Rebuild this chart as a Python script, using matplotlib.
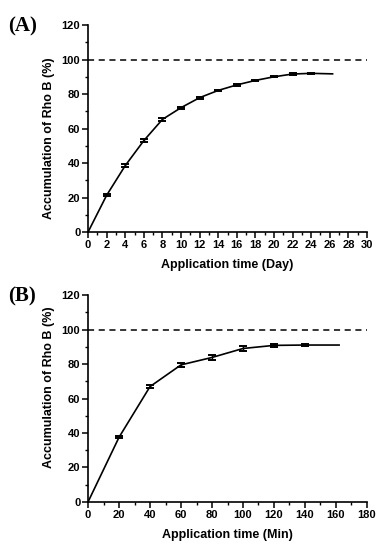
import matplotlib
matplotlib.use('Agg')
import matplotlib.pyplot as plt
from matplotlib.ticker import MultipleLocator

plt.rcParams['font.family'] = 'Liberation Sans'
plt.rcParams['font.weight'] = 'bold'

# panel A: days
day = [0, 2, 4, 6, 8, 10, 12, 14, 16, 18, 20, 22, 24, 26.3]
acc_day = [0, 21.3, 38.5, 53.0, 65.3, 72.1, 77.9, 82.1, 85.3, 87.9, 90.0, 91.6, 92.0, 91.7]
err_day = [0, 0.6, 0.8, 0.8, 0.8, 0.6, 0.6, 0.5, 0.5, 0.5, 0.4, 0.4, 0.4, 0]

# panel B: minutes
mins = [0, 20, 40, 60, 80, 100, 120, 140, 162]
acc_min = [0, 37.5, 66.9, 79.5, 83.8, 89.0, 90.8, 91.0, 91.0]
err_min = [0, 0.6, 0.8, 1.0, 1.5, 1.3, 0.7, 0.5, 0]

fig = plt.figure(figsize=(3.82, 5.5), dpi=100)


def panel(rect, x, y, e, xmax, xmaj, xmin, xlabel, tag, ylab_y):
    ax = fig.add_axes(rect)
    ax.plot(x, y, color='k', lw=1.2)
    ax.errorbar(x[1:-1], y[1:-1], yerr=e[1:-1], fmt='none', ecolor='k',
                elinewidth=1.0, capsize=3.2, capthick=1.4)
    ax.axhline(100, color='k', ls=(0, (4, 3)), lw=1.1)
    ax.set_xlim(0, xmax)
    ax.set_ylim(0, 120)
    ax.xaxis.set_major_locator(MultipleLocator(xmaj))
    ax.xaxis.set_minor_locator(MultipleLocator(xmin))
    ax.yaxis.set_major_locator(MultipleLocator(20))
    ax.yaxis.set_minor_locator(MultipleLocator(10))
    for s in ['top', 'right']:
        ax.spines[s].set_visible(False)
    for s in ['left', 'bottom']:
        ax.spines[s].set_linewidth(1.2)
    ax.tick_params(which='major', direction='out', length=4, width=1.1,
                   labelsize=8, pad=1.5)
    ax.tick_params(which='minor', direction='out', length=2.5, width=1.0)
    ax.set_xlabel(xlabel, fontsize=9, fontweight='bold', labelpad=7)
    ax.set_ylabel('Accumulation of Rho B (%)', fontsize=9, fontweight='bold')
    ax.yaxis.set_label_coords(-0.12, ylab_y)
    fig.text(0.02, rect[1] + rect[3] - 0.003, tag, family='Liberation Serif',
             fontsize=15, fontweight='bold', va='center', ha='left')
    return ax


panel([0.2304, 0.578, 0.7303, 0.3765], day, acc_day, err_day, 30, 2, 1,
      'Application time (Day)', '(A)', 0.454)
panel([0.2304, 0.0873, 0.7303, 0.3763], mins, acc_min, err_min, 180, 20, 10,
      'Application time (Min)', '(B)', 0.553)

fig.savefig('out.png', dpi=100)
